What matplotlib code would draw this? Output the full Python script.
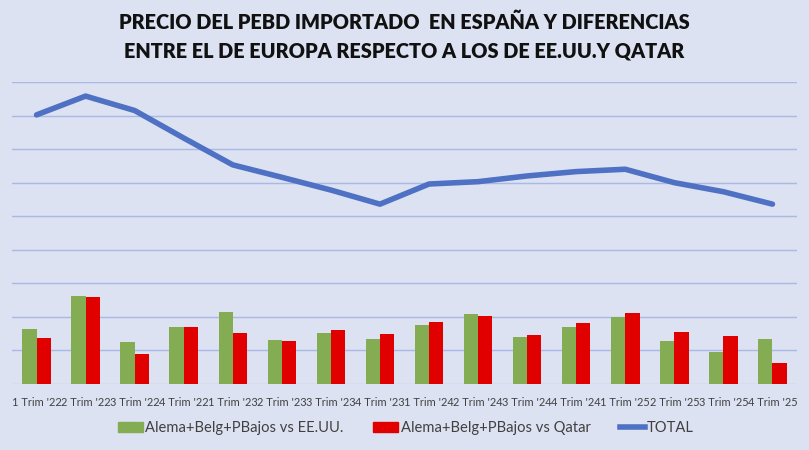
import matplotlib.pyplot as plt
import numpy as np
from matplotlib.lines import Line2D
from matplotlib.patches import Patch

# quarters and series (values in gridline units, no axis labels in the original)
quarters = ["1 Trim '22", "2 Trim '22", "3 Trim '22", "4 Trim '22",
            "1 Trim '23", "2 Trim '23", "3 Trim '23", "4 Trim '23",
            "1 Trim '24", "2 Trim '24", "3 Trim '24", "4 Trim '24",
            "1 Trim '25", "2 Trim '25", "3 Trim '25", "4 Trim '25"]
vs_usa = [1.63, 2.62, 1.24, 1.70, 2.16, 1.31, 1.52, 1.34,
          1.77, 2.09, 1.41, 1.70, 1.99, 1.27, 0.95, 1.34]
vs_qatar = [1.38, 2.58, 0.88, 1.70, 1.52, 1.28, 1.60, 1.49,
            1.85, 2.02, 1.45, 1.81, 2.13, 1.56, 1.42, 0.64]
total = [8.02, 8.58, 8.15, 7.33, 6.53, 6.16, 5.78, 5.36,
         5.96, 6.03, 6.20, 6.33, 6.40, 6.00, 5.73, 5.36]

BG = "#dce2f2"
GREEN = "#84ac52"
RED = "#e00000"
BLUE = "#4f71c4"
GRID = "#a9b9e6"
TXT = "#404040"

plt.rcParams["font.family"] = ["Lato", "DejaVu Sans"]

fig = plt.figure(figsize=(8.09, 4.5), dpi=100, facecolor=BG)
ax = fig.add_axes([12 / 809, 66 / 450, 785 / 809, 302 / 450], facecolor=BG)

x = np.arange(len(quarters))
w = 0.29
ax.bar(x - w / 2, vs_usa, w, color=GREEN, zorder=3)
ax.bar(x + w / 2, vs_qatar, w, color=RED, zorder=3)
ax.plot(x, total, color=BLUE, lw=4, solid_capstyle="round", zorder=4)

ax.set_xlim(-0.5, len(quarters) - 0.5)
ax.set_ylim(0, 9)
ax.set_yticks(np.arange(1, 10))
ax.yaxis.grid(True, color=GRID, lw=1, zorder=0)
ax.axhline(0, color="#c8cdd8", lw=1, zorder=2)
ax.tick_params(axis="y", left=False, labelleft=False)
ax.tick_params(axis="x", length=0, pad=9, labelsize=7.9, labelcolor=TXT)
ax.set_xticks(x)
ax.set_xticklabels(quarters)
for s in ax.spines.values():
    s.set_visible(False)

fig.text(0.5, 1 - 22 / 450, "PRECIO DEL PEBD IMPORTADO  EN ESPAÑA Y DIFERENCIAS",
         ha="center", va="center", fontsize=14.3, fontweight="heavy", color="#111111")
fig.text(0.5, 1 - 51 / 450, "ENTRE EL DE EUROPA RESPECTO A LOS DE EE.UU.Y QATAR",
         ha="center", va="center", fontsize=14.3, fontweight="heavy", color="#111111")

handles = [Patch(color=GREEN), Patch(color=RED), Line2D([0], [0], color=BLUE, lw=4)]
labels = ["Alema+Belg+PBajos vs EE.UU.", "Alema+Belg+PBajos vs Qatar", "TOTAL"]
fig.legend(handles, labels, loc="center", bbox_to_anchor=(0.502, 1 - 428 / 450),
           ncol=3, frameon=False, fontsize=10.6, handlelength=1.7, handletextpad=0.15,
           columnspacing=2.0, labelcolor=TXT)

fig.savefig("out.png", dpi=100, facecolor=BG)
